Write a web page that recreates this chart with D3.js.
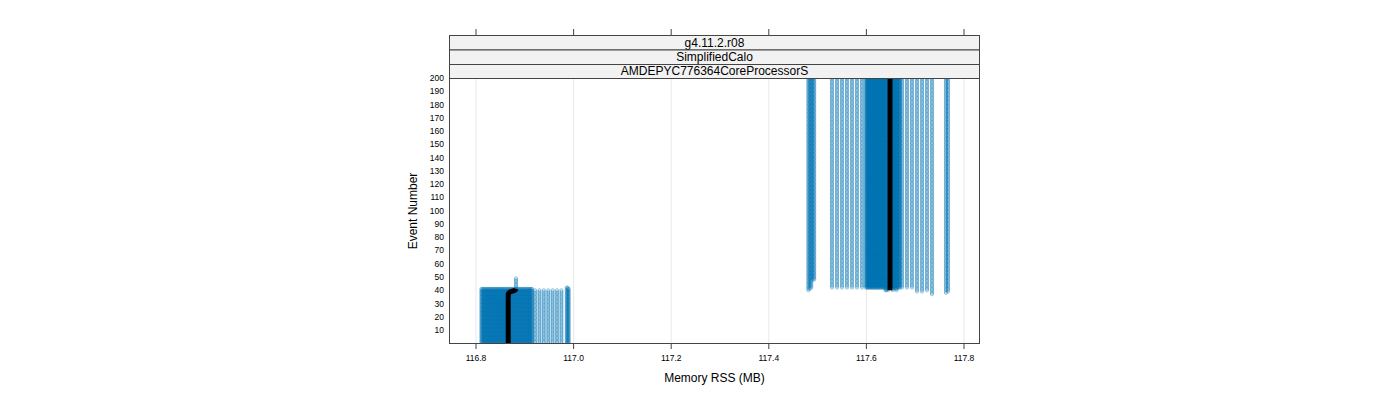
<!DOCTYPE html>
<html><head><meta charset="utf-8">
<script src="https://cdn.jsdelivr.net/npm/d3@7"></script>
<style>body{margin:0;background:#fff}svg{display:block}text{font-family:"Liberation Sans",Arial,sans-serif}</style>
</head><body><svg id="c" width="1400" height="400"></svg>
<script>
// ---- data ----
const stripLabels = ["g4.11.2.r08", "SimplifiedCalo", "AMDEPYC776364CoreProcessorS"];
const xTicks = [116.8, 117.0, 117.2, 117.4, 117.6, 117.8];
const yTicks = [10,20,30,40,50,60,70,80,90,100,110,120,130,140,150,160,170,180,190,200];
// each series: constant memory RSS (MB) over a range of event numbers
const seriesMemory = [
  // low cluster, dense block
  116.811,116.813,116.815,116.817,116.819,116.821,116.823,116.825,116.827,116.829,116.831,116.833,
  116.835,116.837,116.839,116.841,116.843,116.845,116.847,116.849,116.851,116.853,116.855,116.857,
  116.859,116.861,116.863,116.865,116.867,116.869,116.871,116.873,116.875,116.877,116.879,116.881,
  116.883,116.885,116.887,116.889,116.891,116.893,116.895,116.897,116.899,116.901,116.903,116.905,
  116.907,116.909,116.911,116.913,116.915,
  // low cluster, sparse columns
  116.921,116.930,116.939,116.948,116.957,116.966,116.975,
  // low cluster, right column
  116.986,116.988,116.990,
  // short late run
  116.882,
  // high cluster, left column
  117.481,117.484,117.487,117.490,117.493,
  // high cluster, sparse left
  117.5295,117.5398,117.5500,117.5602,117.5705,117.5807,117.5910,
  // high cluster, dense block
  117.5992,117.6008,117.6023,117.6038,117.6053,117.6069,117.6084,117.6100,117.6115,117.6130,
  117.6145,117.6160,117.6176,117.6191,117.6207,117.6222,117.6238,117.6253,117.6268,117.6284,
  117.6299,117.6315,117.6330,117.6345,117.6361,117.6376,117.6391,117.6406,117.6422,117.6443,
  117.6525,117.6540,117.6556,117.6571,117.6586,117.6602,117.6617,117.6632,117.6648,117.6669,117.6689,
  // high cluster, sparse right
  117.6730,117.6832,117.6934,117.7037,117.7140,117.7242,117.7344,
  // high cluster, far right column
  117.7631,117.7672,117.7713
];
const seriesFirstEvent = [
  ...Array(53).fill(0),
  0,0,0,0,0,0,0,
  0,0,0,
  40,
  40,41,42,48,48,
  42,42,42,42,42,42,42,
  42,42,42,42,42,42,42,42,42,42,42,42,42,42,42,42,42,42,42,42,42,42,42,42,42,42,40,40,41,
  40,41,40,42,42,42,41,40,42,42,42,
  42,42,42,42,39,39,40,
  37,38,39
];
const seriesLastEvent = [
  ...Array(53).fill(41),
  40,40,40,40,40,40,40,
  42,42,41,
  49,
  ...Array(5 + 7 + 30 + 11 + 7 + 3).fill(205)
];
// median path (black line)
const medianEvent  = [0, 37, 39, 40, 41,   40, 205];
const medianMemory = [116.866, 116.866, 116.872, 116.880, 116.882,   117.6484, 117.6484];
const medianGroup  = [0,0,0,0,0, 1,1];

// ---- layout ----
const svg = d3.select("#c");
const L = 449, R = 980, T = 78, B = 344;
const x = d3.scaleLinear().domain([116.8, 117.8]).range([476, 964]);
x.domain([x.invert(L), x.invert(R)]).range([L, R]);
const y = d3.scaleLinear().domain([0, 200]).range([343.3, 78]);

svg.append("defs").append("clipPath").attr("id","pc")
  .append("rect").attr("x",L).attr("y",T).attr("width",R-L).attr("height",B-T);

// grid
svg.append("g").selectAll("line").data(xTicks).join("line")
  .attr("x1",d=>x(d)).attr("x2",d=>x(d)).attr("y1",T).attr("y2",B)
  .attr("stroke","#e8e8e8").attr("stroke-width",1);

// points
const pts = [];
seriesMemory.forEach((m,i)=>{
  for(let e=seriesFirstEvent[i]; e<=seriesLastEvent[i]; e++) pts.push([m,e]);
});
const pg = svg.append("g").attr("clip-path","url(#pc)");
pg.selectAll("circle").data(pts).join("circle")
  .attr("cx",d=>x(d[0])).attr("cy",d=>y(d[1])).attr("r",1.6)
  .attr("fill","none").attr("stroke","#0072b2").attr("stroke-opacity",0.42).attr("stroke-width",0.9);

// median line
const groups = d3.groups(medianEvent.map((e,i)=>({e, m:medianMemory[i], g:medianGroup[i]})), d=>d.g);
pg.selectAll("path.med").data(groups).join("path").attr("class","med")
  .attr("d",d=>d3.line().x(p=>x(p.m)).y(p=>y(p.e)).curve(d3.curveMonotoneY)(d[1]))
  .attr("fill","none").attr("stroke","#000").attr("stroke-width",5);

// panel border
svg.append("rect").attr("x",L+0.5).attr("y",T+0.5).attr("width",R-L-1).attr("height",B-T-1)
  .attr("fill","none").attr("stroke","#444");

// strips
const stripH = [35, 49.5, 64, 78];
stripLabels.forEach((s,i)=>{
  svg.append("rect").attr("x",L+0.5).attr("y",stripH[i]+0.5).attr("width",R-L-1).attr("height",stripH[i+1]-stripH[i])
    .attr("fill","#f2f2f2").attr("stroke","#444");
  svg.append("text").attr("x",(L+R)/2).attr("y",(stripH[i]+stripH[i+1])/2+4.3)
    .attr("text-anchor","middle").attr("font-size",12).attr("fill","#000").text(s);
});

// bottom axis
const ax = svg.append("g");
xTicks.forEach(t=>{
  ax.append("line").attr("x1",x(t)).attr("x2",x(t)).attr("y1",B).attr("y2",B+5).attr("stroke","#444");
  ax.append("line").attr("x1",x(t)).attr("x2",x(t)).attr("y1",29).attr("y2",35).attr("stroke","#444");
  ax.append("text").attr("x",x(t)).attr("y",361).attr("text-anchor","middle").attr("font-size",8.5).text(d3.format(".1f")(t));
});
// left axis
yTicks.forEach(t=>{
  ax.append("text").attr("x",444).attr("y",y(t)+3).attr("text-anchor","end").attr("font-size",8.5).text(t);
});
// titles
svg.append("text").attr("x",(L+R)/2).attr("y",382).attr("text-anchor","middle").attr("font-size",12).text("Memory RSS (MB)");
svg.append("text").attr("transform","translate(417,211) rotate(-90)").attr("text-anchor","middle").attr("font-size",12).text("Event Number");
</script></body></html>
